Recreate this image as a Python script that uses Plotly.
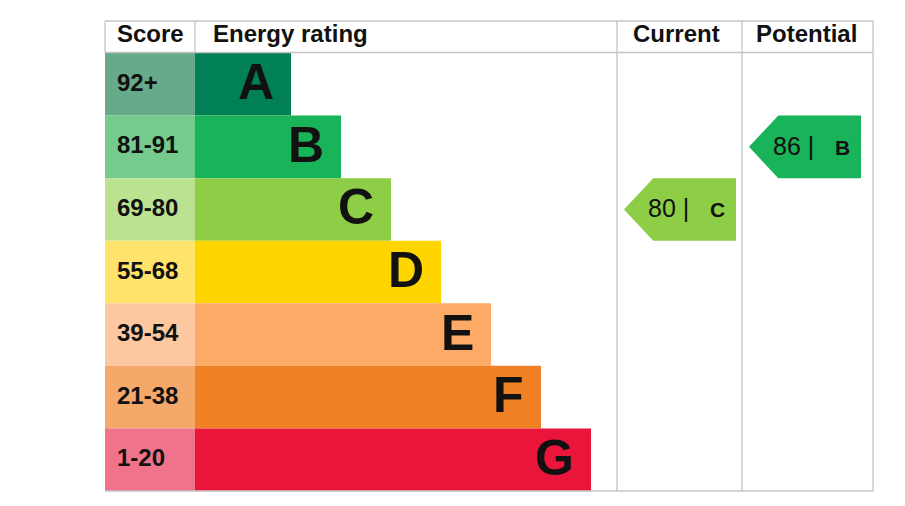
import plotly.graph_objects as go

# ---- data ----
bands = ["A", "B", "C", "D", "E", "F", "G"]
score_ranges = ["92+", "81-91", "69-80", "55-68", "39-54", "21-38", "1-20"]
range_low = [92, 81, 69, 55, 39, 21, 1]
bar_colors = ["#008054", "#19b459", "#8dce46", "#ffd500", "#fcaa65", "#ef8023", "#e9153b"]
score_colors = ["#66a98b", "#74cb8d", "#bbe291", "#ffe36a", "#fdc8a0", "#f4a86a", "#f0728b"]
headers = ["Score", "Energy rating", "Current", "Potential"]
current_value = 80
potential_value = 86

# ---- layout geometry (pixel units on both axes) ----
W, H = 905, 506
LEFT, RIGHT = 105, 873
TOP, HEAD_BOT = 21, 52.5
ROW0 = 53
ROW_H = (491 - ROW0) / 7
SCORE_R = 195
BAR_R0, BAR_STEP = 291, 50
CUR_L, POT_L = 617, 742
ARROW_W = 112
GRID = "#c4c4c4"
FONT = "Arial, Liberation Sans, sans-serif"


def band_index(v):
    for i, lo in enumerate(range_low):
        if v >= lo:
            return i
    return len(range_low) - 1


fig = go.Figure()
shapes = []
annotations = []

for i, b in enumerate(bands):
    y0 = ROW0 + i * ROW_H
    y1 = y0 + ROW_H
    bar_r = BAR_R0 + BAR_STEP * i
    shapes.append(dict(type="rect", x0=LEFT, x1=SCORE_R, y0=y0, y1=y1,
                       fillcolor=score_colors[i], line_width=0, layer="below"))
    shapes.append(dict(type="rect", x0=SCORE_R, x1=bar_r, y0=y0, y1=y1,
                       fillcolor=bar_colors[i], line_width=0, layer="below"))
    annotations.append(dict(x=LEFT + 10, y=(y0 + y1) / 2 - 2, text="<b>%s</b>" % score_ranges[i],
                            xanchor="left", yanchor="middle", showarrow=False,
                            font=dict(family=FONT, size=24, color="#111111")))
    annotations.append(dict(x=bar_r - 15, y=(y0 + y1) / 2 - 2, text="<b>%s</b>" % b,
                            xanchor="right", yanchor="middle", showarrow=False,
                            font=dict(family=FONT, size=50, color="#111111")))

# grid lines
line = dict(color=GRID, width=1.3)
shapes += [
    dict(type="line", x0=LEFT, x1=RIGHT, y0=TOP, y1=TOP, line=line),
    dict(type="line", x0=LEFT, x1=RIGHT, y0=HEAD_BOT, y1=HEAD_BOT, line=line),
    dict(type="line", x0=LEFT, x1=RIGHT, y0=491, y1=491, line=line),
    dict(type="line", x0=LEFT, x1=LEFT, y0=TOP, y1=HEAD_BOT, line=line),
    dict(type="line", x0=SCORE_R, x1=SCORE_R, y0=TOP, y1=HEAD_BOT, line=line),
    dict(type="line", x0=CUR_L, x1=CUR_L, y0=TOP, y1=491, line=line),
    dict(type="line", x0=POT_L, x1=POT_L, y0=TOP, y1=491, line=line),
    dict(type="line", x0=RIGHT, x1=RIGHT, y0=TOP, y1=491, line=line),
]

# headers
hy = (TOP + HEAD_BOT) / 2 - 3.5
header_pos = [(LEFT + 10, "left"), (SCORE_R + 16, "left"),
              ((CUR_L + POT_L) / 2 - 3, "center"), ((POT_L + RIGHT) / 2 - 1, "center")]
for (hx, anc), t in zip(header_pos, headers):
    annotations.append(dict(x=hx, y=hy, text="<b>%s</b>" % t, xanchor=anc, yanchor="middle",
                            showarrow=False, font=dict(family=FONT, size=24, color="#111111")))


def arrow(col_left, value):
    i = band_index(value)
    y0 = ROW0 + i * ROW_H
    y1 = y0 + ROW_H
    ym = (y0 + y1) / 2
    tip = col_left + 7
    notch = tip + ROW_H / 2 - 2
    right = tip + ARROW_W
    path = "M %f %f L %f %f L %f %f L %f %f L %f %f Z" % (tip, ym, notch, y0, right, y0, right, y1, notch, y1)
    shapes.append(dict(type="path", path=path, fillcolor=bar_colors[i], line_width=0))
    txt = "%d |\u00a0\u00a0 <span style='font-size:21px'><b>%s</b></span>" % (value, bands[i])
    annotations.append(dict(x=tip + 22, y=ym - 1, text=txt, xanchor="left", yanchor="middle",
                            showarrow=False, font=dict(family=FONT, size=25, color="#111111")))


arrow(CUR_L, current_value)
arrow(POT_L, potential_value)

fig.update_layout(
    width=W, height=H, margin=dict(l=0, r=0, t=0, b=0),
    paper_bgcolor="white", plot_bgcolor="white",
    xaxis=dict(range=[0, W], visible=False, fixedrange=True),
    yaxis=dict(range=[H, 0], visible=False, fixedrange=True),
    shapes=shapes, annotations=annotations, showlegend=False,
)
fig.write_html("out.html")
